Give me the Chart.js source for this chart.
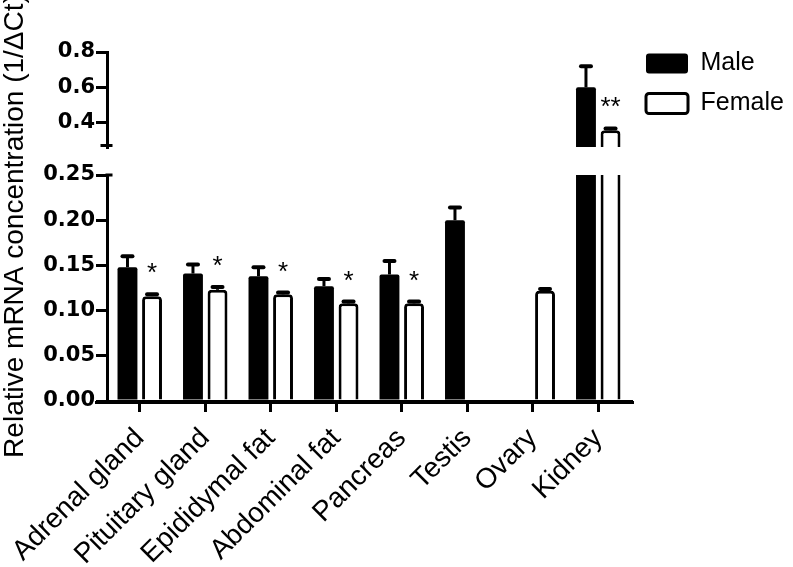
<!DOCTYPE html>
<html>
<head>
<meta charset="utf-8">
<script src="https://cdn.jsdelivr.net/npm/chart.js@4.4.1/dist/chart.umd.min.js"></script>
<style>
html, body { margin: 0; padding: 0; background: #fff; }
canvas { display: block; }
</style>
</head>
<body>
<canvas id="chart" width="793" height="567"></canvas>
<script>
// tissues and values (1/dCt)
var tissues = ['Adrenal gland', 'Pituitary gland', 'Epididymal fat', 'Abdominal fat', 'Pancreas', 'Testis', 'Ovary', 'Kidney'];
var male = [0.148, 0.141, 0.138, 0.127, 0.140, 0.200, null, 0.600];
var maleErr = [0.012, 0.010, 0.010, 0.008, 0.015, 0.014, null, 0.120];
var female = [0.116, 0.123, 0.118, 0.108, 0.108, null, 0.122, 0.357];
var femaleErr = [0.002, 0.003, 0.002, 0.002, 0.002, null, 0.002, 0.010];
var stars = ['*', '*', '*', '*', '*', '', '', '**'];

// broken y axis: lower and upper segments
var lowRange = [0, 0.25];
var lowTicks = [0, 0.05, 0.10, 0.15, 0.20, 0.25];
var highRange = [0.262, 0.8];
var highTicks = [0.4, 0.6, 0.8];

var yTitle = 'Relative mRNA concentration (1/\u0394Ct)';
var textFamily = "'Liberation Sans', Arial, sans-serif";
var labelFont = { family: textFamily, size: 25 };
var xFont = { family: textFamily, size: 28 };
var tickFont = { family: "'DejaVu Sans', sans-serif", weight: 'bold', size: 21 };

var extras = {
    id: 'extras',
    beforeLayout: function (chart) {
        var lg = chart.legend;
        if (lg && !lg._fixed) {
            var fit = lg.fit;
            lg.fit = function () { fit.call(this); this.width = 162; };
            lg._fixed = true;
        }
    },
    afterDatasetsDraw: function (chart) {
        var ctx = chart.ctx;
        var area = chart.chartArea;
        ctx.save();
        ctx.strokeStyle = '#000';
        ctx.fillStyle = '#000';
        // error bars, each clipped to its own axis segment
        chart.data.datasets.forEach(function (ds, di) {
            var meta = chart.getDatasetMeta(di);
            var ys = chart.scales[ds.yAxisID];
            ctx.save();
            ctx.beginPath();
            ctx.rect(area.left, ys.top, area.width, ys.bottom - ys.top);
            ctx.clip();
            ds.data.forEach(function (v, i) {
                if (v == null) return;
                var x = meta.data[i].x;
                var y0 = ys.getPixelForValue(v);
                var y1 = ys.getPixelForValue(v + ds.errors[i]);
                ctx.lineWidth = 3;
                ctx.lineCap = 'butt';
                ctx.beginPath();
                ctx.moveTo(x, y0);
                ctx.lineTo(x, y1);
                ctx.stroke();
                ctx.lineWidth = 4;
                ctx.lineCap = 'round';
                ctx.beginPath();
                ctx.moveTo(x - 5, y1);
                ctx.lineTo(x + 5, y1);
                ctx.stroke();
            });
            ctx.restore();
        });
        // significance stars over the female bars
        ctx.font = '26px ' + textFamily;
        ctx.textAlign = 'center';
        ctx.textBaseline = 'alphabetic';
        stars.forEach(function (s, i) {
            if (!s || female[i] == null) return;
            var di = female[i] <= lowRange[1] ? 1 : 3;
            var ds = chart.data.datasets[di];
            var ys = chart.scales[ds.yAxisID];
            var x = chart.getDatasetMeta(di).data[i].x;
            ctx.fillText(s, x, ys.getPixelForValue(female[i] + femaleErr[i]) - 13);
        });
        ctx.restore();
    },
    afterDraw: function (chart) {
        var ctx = chart.ctx;
        var area = chart.chartArea;
        var yTop = chart.scales.yTop, yBot = chart.scales.yBot, xs = chart.scales.x;
        var ax = area.left - 1.5;
        ctx.save();
        ctx.strokeStyle = '#000';
        ctx.lineWidth = 3;
        ctx.beginPath();
        ctx.moveTo(ax - 5, yTop.bottom - 1.5);
        ctx.lineTo(ax + 7, yTop.bottom - 1.5);
        ctx.moveTo(ax, yBot.top);
        ctx.lineTo(ax + 7, yBot.top);
        ctx.moveTo(area.left - 12, xs.top + 1.5);
        ctx.lineTo(area.right + 3, xs.top + 1.5);
        ctx.stroke();
        // y title spans both segments
        ctx.fillStyle = '#000';
        ctx.font = '28px ' + textFamily;
        ctx.translate(23, 226);
        ctx.rotate(-Math.PI / 2);
        ctx.textAlign = 'center';
        ctx.textBaseline = 'alphabetic';
        ctx.fillText(yTitle, 0, 0);
        ctx.restore();
    }
};

function yAxis(range, ticks, digits, weight) {
    return {
        type: 'linear',
        position: 'left',
        stack: 'v',
        stackWeight: weight,
        min: range[0],
        max: range[1],
        afterBuildTicks: function (s) { s.ticks = ticks.map(function (v) { return { value: v }; }); },
        afterFit: function (s) { s.width = 107; },
        grid: { drawOnChartArea: false, color: '#000', lineWidth: 3, tickLength: 11 },
        border: { color: '#000', width: 3 },
        ticks: { color: '#000', font: tickFont, padding: 1, callback: function (v) { return Number(v).toFixed(digits); } }
    };
}

function spacer(weight) {
    return {
        type: 'linear',
        position: 'left',
        stack: 'v',
        stackWeight: weight,
        afterFit: function (s) { s.width = 107; },
        grid: { display: false },
        border: { display: false },
        ticks: { display: false }
    };
}

var maleStyle = { backgroundColor: '#000', borderColor: '#000', borderWidth: 0, borderRadius: { topLeft: 2, topRight: 2 }, clip: 0 };
var femaleStyle = { backgroundColor: '#fff', borderColor: '#000', borderWidth: 3, borderRadius: { topLeft: 4, topRight: 4 }, clip: 0 };

new Chart(document.getElementById('chart'), {
    type: 'bar',
    data: {
        labels: tissues,
        datasets: [
            Object.assign({ label: 'Male', data: male, errors: maleErr, yAxisID: 'yBot', stack: 'm' }, maleStyle),
            Object.assign({ label: 'Female', data: female, errors: femaleErr, yAxisID: 'yBot', stack: 'f' }, femaleStyle),
            Object.assign({ label: 'Male', data: male, errors: maleErr, yAxisID: 'yTop', stack: 'm' }, maleStyle),
            Object.assign({ label: 'Female', data: female, errors: femaleErr, yAxisID: 'yTop', stack: 'f' }, femaleStyle)
        ]
    },
    options: {
        responsive: false,
        animation: false,
        layout: { padding: { top: 36, bottom: 0, left: 0, right: 0 } },
        datasets: { bar: { barPercentage: 0.81, categoryPercentage: 0.75 } },
        plugins: {
            tooltip: { enabled: false },
            legend: {
                position: 'right',
                align: 'start',
                labels: {
                    color: '#000',
                    font: labelFont,
                    boxWidth: 42,
                    boxHeight: 20,
                    padding: 15,
                    useBorderRadius: true,
                    borderRadius: 3,
                    filter: function (item) { return item.datasetIndex < 2; }
                }
            }
        },
        scales: {
            x: {
                afterFit: function (s) { s.height = 166; },
                grid: { drawOnChartArea: false, offset: false, color: '#000', lineWidth: 3, tickLength: 11 },
                border: { color: '#000', width: 3 },
                ticks: { color: '#000', font: xFont, minRotation: 45, maxRotation: 45, padding: 10, autoSkip: false }
            },
            yBot: yAxis(lowRange, lowTicks, 2, 226),
            yGap: spacer(28),
            yTop: yAxis(highRange, highTicks, 1, 95),
            yPad: spacer(16)
        }
    },
    plugins: [extras]
});
</script>
</body>
</html>
